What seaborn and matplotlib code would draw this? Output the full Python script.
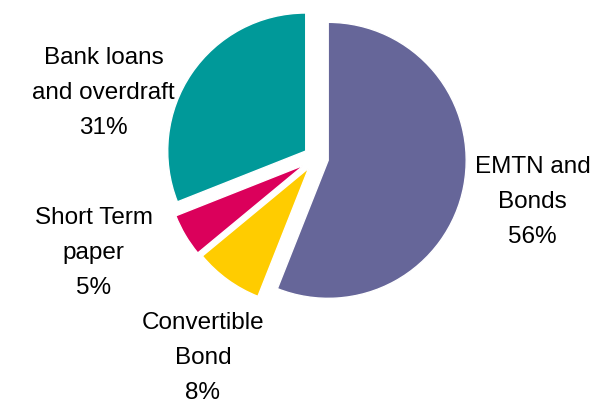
import matplotlib
matplotlib.use('Agg')
import matplotlib.pyplot as plt
import seaborn as sns

sns.set_theme(style='white')
plt.rcParams['font.family'] = ['Liberation Sans', 'DejaVu Sans']

# Debt breakdown
labels = ['EMTN and\nBonds', 'Convertible\nBond', 'Short Term\npaper', 'Bank loans\nand overdraft']
shares = [56, 8, 5, 31]
colors = ['#666699', '#FFCC00', '#DB005B', '#009999']
explode = [0.09, 0.09, 0.1, 0.09]
# label centres in pie radius units (relative to pie centre)
label_xy = [(1.57, -0.32), (-0.82, -1.45), (-1.61, -0.69), (-1.54, 0.47)]

fig = plt.figure(figsize=(5.99, 4.0), dpi=100)
ax = fig.add_axes([0, 0, 1, 1])
ax.pie(shares, colors=colors, explode=explode, startangle=90,
       counterclock=False, radius=1)
for lab, val, (x, y) in zip(labels, shares, label_xy):
    ax.text(x, y, f'{lab}\n{val}%', ha='center', va='center',
            fontsize=17.5, color='black', linespacing=1.75)

unit = 138
cx, cy = 316, 158
ax.set_xlim(-cx / unit, (599 - cx) / unit)
ax.set_ylim(-(400 - cy) / unit, cy / unit)
ax.axis('off')

plt.savefig('out.png', dpi=100)
plt.close()
